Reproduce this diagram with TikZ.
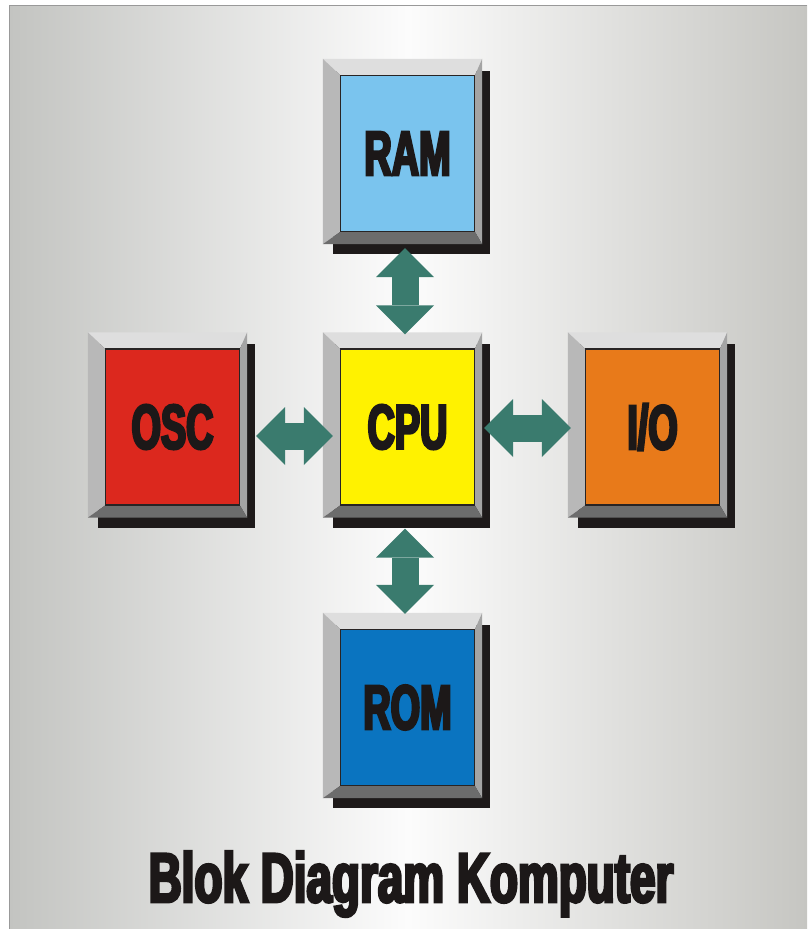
\documentclass[tikz,border=0pt]{standalone}
\usepackage{fontspec}
\newfontfamily\impact[FakeStretch=0.60,FakeBold=4]{Liberation Sans Bold}
\newfontfamily\impactT[FakeStretch=0.655,FakeBold=4]{Liberation Sans Bold}
\usetikzlibrary{calc,arrows.meta}
\definecolor{bgl}{RGB}{195,196,193}
\definecolor{bgr}{RGB}{198,198,194}
\definecolor{bgw}{RGB}{252,252,252}
\definecolor{tealA}{RGB}{58,123,110}
\definecolor{bvtop}{RGB}{222,222,222}
\definecolor{bvleft}{RGB}{184,184,184}
\definecolor{bvright}{RGB}{164,164,164}
\definecolor{bvbot}{RGB}{108,108,108}
\definecolor{shadowc}{RGB}{30,26,26}
\definecolor{facebd}{RGB}{40,36,36}
\definecolor{txt}{RGB}{28,24,24}
\definecolor{ramc}{RGB}{122,196,238}
\definecolor{cpuc}{RGB}{255,242,0}
\definecolor{oscc}{RGB}{220,40,30}
\definecolor{ioc}{RGB}{232,122,26}
\definecolor{romc}{RGB}{10,116,192}
\pgfdeclarelayer{back}
\pgfdeclarelayer{bevel}
\pgfsetlayers{back,bevel,main}
\newcommand{\bevelbox}[4]{%
  \node[face, fill=#3] (#1) at (#2) {#4};
  \begin{pgfonlayer}{bevel}
    \fill[shadowc] ($(#1.north west)+(-7,-4)$) rectangle ($(#1.south east)+(15,22)$);
    \fill[bvtop] ($(#1.north west)+(-17,-16)$) -- ($(#1.north east)+(7,-16)$) -- (#1.north east) -- (#1.north west) -- cycle;
    \fill[bvleft] ($(#1.north west)+(-17,-16)$) -- (#1.north west) -- (#1.south west) -- ($(#1.south west)+(-17,12)$) -- cycle;
    \fill[bvright] ($(#1.north east)+(7,-16)$) -- ($(#1.south east)+(7,12)$) -- (#1.south east) -- (#1.north east) -- cycle;
    \fill[bvbot] ($(#1.south west)+(-17,12)$) -- ($(#1.south east)+(7,12)$) -- (#1.south east) -- (#1.south west) -- cycle;
  \end{pgfonlayer}}
\begin{document}
\begin{tikzpicture}[x=1pt,y=-1pt,
  face/.style={draw=facebd, line width=1.2pt, minimum width=134pt, minimum height=156pt,
    inner sep=0pt, text=txt, font=\impact\fontsize{63}{63}\selectfont},
  dblarrow/.style={draw=tealA, line width=27pt,
    {Triangle[length=29pt,width=58pt,line width=0pt]}-{Triangle[length=29pt,width=58pt,line width=0pt]}},
  title/.style={text=txt, font=\impactT\fontsize{70}{70}\selectfont, inner sep=0pt, anchor=base}]
\useasboundingbox (0,0) rectangle (807,929);
\begin{pgfonlayer}{back}
  \fill[white] (0,0) rectangle (807,929);
  \shade[left color=bgl, right color=bgr, middle color=bgw] (9,5) rectangle (807,929);
  \draw[gray!80, line width=1pt] (9,929) -- (9,5) -- (807,5);
\end{pgfonlayer}
\bevelbox{ram}{407.5,153.5}{ramc}{RAM}
\bevelbox{cpu}{407.5,427}{cpuc}{CPU}
\bevelbox{osc}{172.5,427}{oscc}{OSC}
\bevelbox{io}{652.5,427}{ioc}{I/O}
\bevelbox{rom}{407.5,707.5}{romc}{ROM}
\draw[dblarrow] ($(ram.south)+(-2.5,16)$) -- ($(cpu.north)+(-2.5,-14)$);
\draw[dblarrow] ($(cpu.south)+(-2.5,23)$) -- ($(rom.north)+(-2.5,-15)$);
\draw[dblarrow] ($(osc.east)+(16,9)$) -- ($(cpu.west)+(-7,9)$);
\draw[dblarrow] ($(cpu.east)+(9,1)$) -- ($(io.west)+(-14,1)$);
\node[title] (ttl) at (411,902) {Blok Diagram Komputer};
\end{tikzpicture}
\end{document}
